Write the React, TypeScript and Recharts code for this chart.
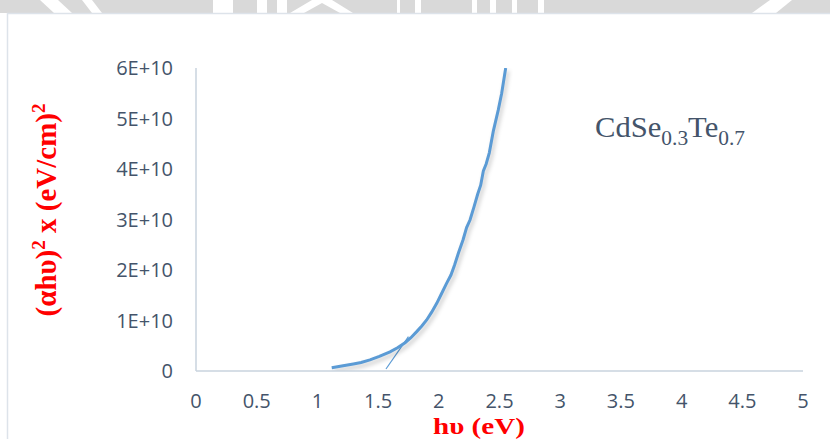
import React from "react";
import { LineChart, Line, XAxis, YAxis, Label } from "recharts";

// photon energy hv (eV) and (alpha*hv)^2 in units of 1E+10 (eV/cm)^2
const hv = [
  1.118, 1.2, 1.296, 1.36, 1.433, 1.51, 1.598, 1.66, 1.722, 1.77, 1.818, 1.86,
  1.9, 1.94, 1.983, 2.02, 2.065, 2.1, 2.13, 2.161, 2.2, 2.229, 2.257, 2.29,
  2.32, 2.345, 2.367, 2.39, 2.416, 2.449, 2.49, 2.518, 2.551,
];
const absE10 = [
  0.065, 0.1, 0.14, 0.17, 0.22, 0.29, 0.38, 0.46, 0.56, 0.66, 0.78, 0.89,
  1.01, 1.16, 1.34, 1.52, 1.74, 1.9, 2.1, 2.33, 2.6, 2.84, 2.99, 3.25,
  3.5, 3.68, 3.96, 4.1, 4.32, 4.75, 5.17, 5.5, 6.0,
];

// linear extrapolation to the hv axis (band gap)
const hvFit = [1.565, 1.75];
const absFitE10 = [0.04, 0.68];

const xTicks = [0, 0.5, 1, 1.5, 2, 2.5, 3, 3.5, 4, 4.5, 5];
const yTicksE10 = [0, 1, 2, 3, 4, 5, 6];

const curve = hv.map((x, i) => ({ x, y: absE10[i] * 1e10 }));
const fit = hvFit.map((x, i) => ({ x, y: absFitE10[i] * 1e10 }));

const BLUE = "#5B9BD5";
const AXIS = "#C9D3DE";
const TICK = { fill: "#44546A", fontSize: 20, fontFamily: "'Open Sans', sans-serif" };

const fmtY = (v: number) => (v === 0 ? "0" : `${Math.round(v / 1e10)}E+10`);

export default function App() {
  return (
    <div
      style={{
        position: "absolute",
        left: 0,
        top: 0,
        width: 830,
        height: 439,
        background: "#fff",
        overflow: "hidden",
      }}
    >
      {/* page decoration: cropped grey header strip and frame */}
      <svg width={830} height={439} style={{ position: "absolute", left: 0, top: 0 }}>
        <rect x={0} y={0} width={830} height={13} fill="#D9D9D9" />
        <polygon points="40,0 58,0 72,13 54,13" fill="#fff" />
        <polygon points="82,0 92,0 102,13 92,13" fill="#fff" />
        <rect x={213} y={0} width={20} height={13} fill="#fff" />
        <rect x={257} y={0} width={10} height={13} fill="#fff" />
        <rect x={277} y={0} width={10} height={13} fill="#fff" />
        <polygon points="290,13 312,0 332,0 353,13 340,13 322,3 304,13" fill="#fff" />
        <rect x={397} y={0} width={3} height={13} fill="#fff" />
        <rect x={415} y={0} width={6} height={13} fill="#fff" />
        <rect x={472} y={0} width={5} height={13} fill="#fff" />
        <rect x={490} y={0} width={6} height={13} fill="#fff" />
        <rect x={512} y={0} width={5} height={13} fill="#fff" />
        <rect x={538} y={0} width={6} height={13} fill="#fff" />
        <polygon points="770,0 792,0 776,13 752,13" fill="#fff" />
        <line x1={7} y1={13.5} x2={830} y2={13.5} stroke="#DDE3EA" strokeWidth={1.5} />
        <line x1={7.5} y1={13} x2={7.5} y2={439} stroke="#DDE3EA" strokeWidth={1.5} />
      </svg>

      <div style={{ position: "absolute", left: 0, top: 0 }}>
        <LineChart width={830} height={439} margin={{ top: 68, right: 27, bottom: 0, left: 0 }}>
          <XAxis
            dataKey="x"
            type="number"
            domain={[0, 5]}
            ticks={xTicks}
            allowDataOverflow
            height={68}
            tick={TICK}
            tickLine={false}
            tickSize={0}
            tickMargin={23}
            axisLine={{ stroke: AXIS, strokeWidth: 1.5 }}
          >
            <Label
              content={() => (
                <text
                  x={479}
                  y={434}
                  textAnchor="middle"
                  fill="#FF0000"
                  fontFamily="'Liberation Serif', serif"
                  fontWeight="bold"
                  fontSize={24}
                  textLength={92}
                  lengthAdjust="spacingAndGlyphs"
                >
                  hυ (eV)
                </text>
              )}
            />
          </XAxis>
          <YAxis
            dataKey="y"
            type="number"
            domain={[0, 6e10]}
            ticks={yTicksE10.map((t) => t * 1e10)}
            tickFormatter={fmtY}
            allowDataOverflow
            width={196}
            tick={TICK}
            tickLine={false}
            tickSize={0}
            tickMargin={23}
            axisLine={{ stroke: AXIS, strokeWidth: 1.5 }}
          >
            <Label
              content={() => (
                <text
                  transform="translate(56,210) rotate(-90)"
                  textAnchor="middle"
                  fill="#FF0000"
                  fontFamily="'Liberation Serif', serif"
                  fontWeight="bold"
                  fontSize={29}
                >
                  (αhυ)
                  <tspan dy={-11} fontSize={19}>
                    2
                  </tspan>
                  <tspan dy={11}> x (eV/cm)</tspan>
                  <tspan dy={-11} fontSize={19}>
                    2
                  </tspan>
                </text>
              )}
            />
          </YAxis>
          <Line
            data={fit}
            dataKey="y"
            type="linear"
            stroke={BLUE}
            strokeWidth={1.2}
            dot={false}
            isAnimationActive={false}
          />
          <Line
            data={curve}
            dataKey="y"
            type="linear"
            stroke={BLUE}
            strokeWidth={3}
            dot={false}
            isAnimationActive={false}
            style={{ filter: "drop-shadow(2px 3px 2px rgba(0,0,0,0.22))" }}
          />
        </LineChart>
      </div>

      <svg width={830} height={439} style={{ position: "absolute", left: 0, top: 0, pointerEvents: "none" }}>
        <text
          x={595}
          y={137}
          fill="#44546A"
          fontFamily="'Liberation Serif', serif"
          fontSize={30}
          textLength={150}
          lengthAdjust="spacingAndGlyphs"
        >
          CdSe
          <tspan dy={8} fontSize={21}>
            0.3
          </tspan>
          <tspan dy={-8}>Te</tspan>
          <tspan dy={8} fontSize={21}>
            0.7
          </tspan>
        </text>
      </svg>
    </div>
  );
}
